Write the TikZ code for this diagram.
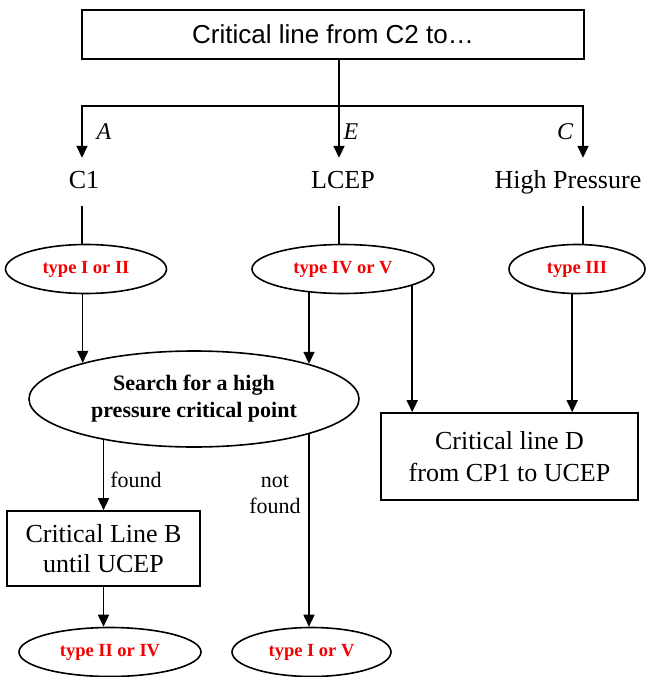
\documentclass[tikz,border=0pt]{standalone}
\usepackage{fontspec}
\setmainfont{Liberation Serif}
\newfontfamily\arialf{Liberation Sans}
\usetikzlibrary{shapes.geometric,arrows.meta,backgrounds,calc}
\definecolor{tred}{RGB}{245,0,0}
\begin{document}
\begin{tikzpicture}[x=1pt,y=-1pt,
  conn/.style={line width=1.6pt},
  arr/.style={conn,-{Triangle[width=11pt,length=12pt]}},
  oval/.style={ellipse,draw,line width=1.6pt,fill=white,inner sep=0pt,minimum height=49pt},
  typetxt/.style={font=\fontsize{18.5}{22}\selectfont\bfseries,text=tred},
  boxnode/.style={rectangle,draw,line width=1.6pt,fill=white,align=center,inner sep=0pt},
  lbl/.style={font=\fontsize{26}{30}\selectfont,text height=18pt,text depth=6pt,inner xsep=2pt,inner ysep=12pt,anchor=base},
  branch/.style={font=\fontsize{24}{28}\selectfont\itshape},
  small/.style={font=\fontsize{22}{26}\selectfont,align=center}
]
\useasboundingbox (0,0) rectangle (646,677);
% top box
\node[boxnode,minimum width=502pt,minimum height=49pt,font=\arialf\fontsize{26}{30}\selectfont] (top) at (333,34.5) {Critical line from C2 to…};
% branch targets
\node[lbl] (c1) at (84,188) {C1};
\node[lbl] (lcep) at (343,188) {LCEP};
\node[lbl] (hp) at (568,188) {High Pressure};
\coordinate (jl) at (82,106);
\coordinate (jm) at (339,106);
\coordinate (jr) at (583,106);
\node[branch] (la) at (104,132) {A};
\node[branch] (le) at (351,132) {E};
\node[branch] (lc) at (565,132) {C};
% type ellipses
\node[oval,typetxt,minimum width=161pt] (t1) at (86,269) {type I or II};
\node[oval,typetxt,minimum width=182pt] (t2) at (343,269) {type IV or V};
\node[oval,typetxt,minimum width=136pt] (t3) at (577,269) {type III};
% search ellipse
\node[oval,minimum width=330pt,minimum height=96pt,align=center,font=\fontsize{22}{27}\selectfont\bfseries] (search) at (194,399) {Search for a high\\pressure critical point};
% boxes
\node[boxnode,minimum width=257pt,minimum height=87pt,font=\fontsize{26}{32}\selectfont] (D) at (509.5,456.5) {Critical line D\\from CP1 to UCEP};
\node[boxnode,minimum width=193pt,minimum height=75pt,font=\fontsize{26}{30}\selectfont] (B) at (103.5,548.5) {Critical Line B\\until UCEP};
% bottom ellipses
\node[oval,typetxt,minimum width=182pt] (t4) at (110,652) {type II or IV};
\node[oval,typetxt,minimum width=159pt] (t5) at (311.5,652) {type I or V};
% labels on branches
\node[small] (fnd) at (136,480) {found};
\node[small] (nf) at (275,494) {not\\found};
% helper coordinates on borders
\coordinate (a1) at (search.162.5);
\coordinate (a2) at (search.17.5);
\coordinate (dl) at ($(D.north west)+(32,0)$);
\coordinate (dr) at ($(D.north west)+(192,0)$);
% connectors
\draw[arr] (top.south -| jm) -- (lcep.north -| jm);
\draw[arr] (jm) -- (jl) -- (c1.north -| jl);
\draw[arr] (jm) -- (jr) -- (hp.north -| jr);
\begin{scope}[on background layer]
\draw[conn] (c1.south -| jl) -- (t1.center -| jl);
\draw[conn] (lcep.south -| jm) -- (t2.center -| jm);
\draw[conn] (hp.south -| jr) -- (t3.center -| jr);
\draw[arr] (t1.center -| a1) -- (a1);
\draw[arr] (t2.center -| a2) -- (a2);
\draw[arr] (t2.center -| dl) -- (dl);
\draw[arr] (t3.center -| dr) -- (dr);
\draw[arr] (search.center -| B.north) -- (B.north);
\draw[arr] (search.center -| a2) -- (t5.north -| a2);
\draw[arr] (B.south) -- (t4.north -| B.south);
\end{scope}
\end{tikzpicture}
\end{document}
